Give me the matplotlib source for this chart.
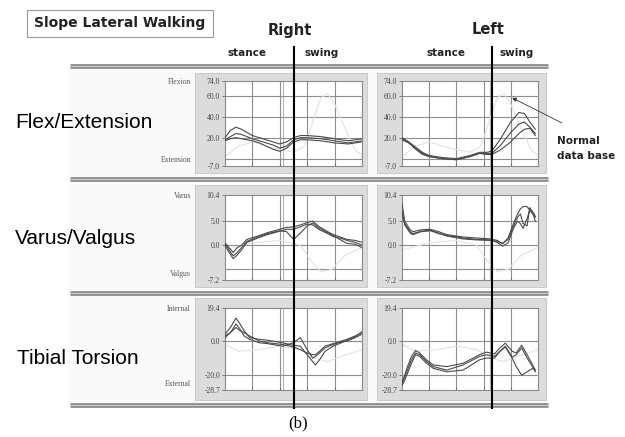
import matplotlib
matplotlib.use("Agg")
import matplotlib.pyplot as plt
from matplotlib.patches import Rectangle
from matplotlib.lines import Line2D

# percent of gait cycle and joint angles (deg), three trials per side
flex_r_x = [0, 4, 8, 12, 16, 20, 25, 30, 35, 40, 45, 50, 55, 60, 70, 80, 90, 100]
flex_r_1 = [20, 27, 30, 28, 25, 22, 20, 18, 16, 14, 16, 20, 22, 22, 21, 19, 17, 19]
flex_r_2 = [18, 21, 24, 23, 21, 19, 17, 15, 13, 10, 12, 18, 20, 20, 19, 17, 15, 17]
flex_r_3 = [17, 19, 20, 19, 18, 17, 15, 12, 9, 7, 10, 16, 18, 18, 17, 15, 14, 16]

flex_l_x = [0, 5, 10, 15, 20, 30, 40, 50, 57, 62, 66, 72, 80, 86, 90, 94, 98]
flex_l_1 = [20, 16, 11, 6, 3, 1, 0, 3, 6, 6, 7, 18, 35, 44, 43, 35, 28]
flex_l_2 = [19, 15, 10, 5, 2, 0, -1, 2, 5, 5, 5, 12, 25, 33, 35, 30, 24]
flex_l_3 = [18, 15, 9, 4, 2, 0, -1, 2, 5, 4, 4, 8, 16, 24, 28, 29, 22]

var_r_x = [0, 3, 6, 9, 12, 16, 25, 31, 40, 45, 50, 55, 60, 64, 69, 75, 79, 85, 89, 95, 100]
var_r_1 = [0.5, -0.5, -1.5, -0.5, 0, 1.2, 2.0, 2.6, 3.3, 3.7, 3.8, 4.2, 4.7, 5.0, 3.8, 2.8, 2.2, 1.6, 1.2, 1.0, 0.6]
var_r_2 = [0, -1.5, -2.8, -2.0, -1.0, 0.6, 1.6, 2.2, 2.9, 3.3, 3.3, 3.8, 4.4, 4.2, 3.2, 2.4, 1.8, 1.4, 1.0, 0.6, 0]
var_r_3 = [0.3, -1.0, -2.2, -1.5, -0.5, 0.8, 1.8, 2.4, 3.0, 2.8, 1.2, 2.5, 4.0, 4.6, 3.5, 2.6, 2.0, 1.0, 0.4, 0.2, -0.5]

var_l_x = [0, 2, 6, 8, 14, 21, 27, 33, 45, 55, 65, 70, 74, 78, 82, 85, 87, 89, 92, 94, 96, 98]
var_l_1 = [8.6, 5.0, 3.2, 2.8, 3.2, 3.3, 2.8, 2.2, 1.7, 1.5, 1.3, 1.0, 0.3, 1.5, 4.5, 6.5, 7.5, 8.0, 8.0, 7.2, 6.5, 5.8]
var_l_2 = [7.0, 4.2, 2.5, 2.2, 2.8, 3.0, 2.4, 2.0, 1.5, 1.2, 1.1, 0.6, -0.2, 0.5, 3.5, 5.0, 4.5, 3.5, 5.5, 7.5, 7.0, 6.0]
var_l_3 = [6.5, 4.5, 2.8, 2.4, 2.9, 3.1, 2.5, 1.9, 1.3, 1.1, 1.0, 0.8, 0.4, 1.2, 4.0, 5.8, 6.5, 4.5, 4.0, 7.8, 6.8, 5.0]

tor_r_x = [0, 4, 8, 11, 14, 18, 25, 31, 42, 50, 55, 60, 64, 66, 69, 73, 79, 85, 89, 95, 100]
tor_r_1 = [4, 8, 13.5, 10, 6, 2, 1, 0.5, -1, -2.5, -3, -8, -12, -14, -11, -6, -3, -1, 0.5, 2.5, 5.5]
tor_r_2 = [3, 5, 8, 6, 5, 3, 0, -1, -2, -3.5, -5, -7, -8, -8, -6, -3, -1.5, 0, 1, 3, 5]
tor_r_3 = [2, 5, 10, 7, 3, 1, -1, -1.5, -3, -1, 2, -5, -10, -9, -7, -4, -2, -0.5, 0, 2, 4]

tor_l_x = [0, 2, 4, 7, 10, 13, 18, 23, 33, 45, 57, 62, 68, 72, 76, 81, 84, 88, 92, 96, 98]
tor_l_1 = [-24, -20, -15, -9, -5.5, -7, -11, -14, -15, -13, -8, -6.5, -7.5, -4, -1.2, -6, -7, -2.4, -8, -14, -17]
tor_l_2 = [-25, -21, -17, -11, -7, -8, -12, -15, -17, -14, -9, -8, -9, -6, -3, -9.4, -8, -4, -10, -15, -18]
tor_l_3 = [-26, -23, -19, -13, -8, -9, -13, -16, -18, -17, -11, -10, -10, -6, -3.5, -10, -15, -20, -18, -16, -17]

# normal data base curves (drawn faint behind the trials)
norm_flex_x = [0, 10, 20, 35, 50, 58, 64, 70, 75, 80, 88, 95, 100]
norm_flex_y = [2, 12, 16, 10, 6, 12, 35, 58, 62, 52, 28, 8, 3]
norm_var_x = [0, 20, 40, 55, 62, 70, 78, 88, 100]
norm_var_y = [-1, 0.5, 1, 0, -3, -5.5, -5, -2, -0.5]
norm_tor_x = [0, 10, 25, 40, 55, 65, 75, 85, 100]
norm_tor_y = [-2, -6, -5, -3, -5, -10, -12, -9, -5]

row_names = ["Flex/Extension", "Varus/Valgus", "Tibial Torsion"]
row_top = ["Flexion", "Varus", "Internal"]
row_bottom = ["Extension", "Valgus", "External"]
row_ylim = [(-7, 74), (-7.2, 10.4), (-28.7, 19.4)]
row_ticks = [[74, 60, 40, 20, -7], [10.4, 5, 0, -7.2], [19.4, 0, -20, -28.7]]
row_ticklabels = [["74.0", "60.0", "40.0", "20.0", "-7.0"],
                  ["10.4", "5.0", "0.0", "-7.2"],
                  ["19.4", "0.0", "-20.0", "-28.7"]]
row_grid = [[60, 40, 20, 0], [5, 0, -5], [0, -20]]
toe_off = [42, 65]  # right, left

panels = [
    [(flex_r_x, [flex_r_1, flex_r_2, flex_r_3]), (flex_l_x, [flex_l_1, flex_l_2, flex_l_3])],
    [(var_r_x, [var_r_1, var_r_2, var_r_3]), (var_l_x, [var_l_1, var_l_2, var_l_3])],
    [(tor_r_x, [tor_r_1, tor_r_2, tor_r_3]), (tor_l_x, [tor_l_1, tor_l_2, tor_l_3])],
]
normals = [(norm_flex_x, norm_flex_y), (norm_var_x, norm_var_y), (norm_tor_x, norm_tor_y)]

W, H = 625, 437

def fx(px):
    return px / W

def fy(py):
    return 1 - py / H

def rect(x0, y0, x1, y1, **kw):
    return Rectangle((fx(x0), fy(y1)), (x1 - x0) / W, (y1 - y0) / H,
                     transform=fig.transFigure, **kw)

fig = plt.figure(figsize=(6.25, 4.37), dpi=100)
fig.patch.set_facecolor("white")

# pixel layout
col_ax = [(225, 362), (402, 538)]
col_frame = [(195, 367), (377, 546)]
row_ax = [(81, 166), (195, 280), (308, 390)]
row_frame = [(73, 173), (185, 287), (298, 400)]
sep_y = [66, 179, 293, 405]

fig.add_artist(rect(68, 66, 548, 405, facecolor="#fafafa", edgecolor="none", zorder=-3))

for r in range(3):
    for c in range(2):
        fx0, fx1 = col_frame[c]
        fy0, fy1 = row_frame[r]
        fig.add_artist(rect(fx0, fy0, fx1, fy1, facecolor="#dcdcdc",
                            edgecolor="#c4c4c4", lw=0.6, zorder=-2))
        ax0, ax1 = col_ax[c]
        ay0, ay1 = row_ax[r]
        ax = fig.add_axes([fx(ax0), fy(ay1), (ax1 - ax0) / W, (ay1 - ay0) / H])
        ax.set_facecolor("white")
        ax.set_xlim(0, 100)
        ax.set_ylim(*row_ylim[r])
        for g in [20, 40, 60, 80]:
            ax.axvline(g, color="#8e8e8e", lw=0.8, zorder=1)
        ax.axvline(toe_off[c], color="#b4b4b4", lw=0.8, zorder=1)
        for g in row_grid[r]:
            ax.axhline(g, color="#8e8e8e", lw=0.8, zorder=1)
        nx, ny = normals[r]
        ax.plot(nx, ny, color="#e2e2e2", lw=0.8, zorder=2)
        xs, trials = panels[r][c]
        for ys in trials:
            ax.plot(xs, ys, color="#4a4a4a", lw=0.8, zorder=3)
        ax.set_yticks(row_ticks[r])
        ax.set_yticklabels(row_ticklabels[r], family="Liberation Serif",
                           fontsize=5.5, color="#444444")
        ax.set_xticks([0, 20, 40, 60, 80, 100])
        ax.set_xticklabels([])
        ax.tick_params(axis="y", length=2.5, width=0.6, pad=1, color="#666666")
        ax.tick_params(axis="x", length=2, width=0.6, direction="in", color="#666666")
        for s in ax.spines.values():
            s.set_color("#8a8a8a")
            s.set_linewidth(0.8)

    # side labels for each row
    ay0, ay1 = row_ax[r]
    fig.text(fx(191), fy(ay0 + 1), row_top[r], family="Liberation Serif",
             fontsize=5.5, color="#555555", ha="right", va="center")
    fig.text(fx(191), fy(ay1 - 6), row_bottom[r], family="Liberation Serif",
             fontsize=5.5, color="#555555", ha="right", va="center")

# row titles
fig.text(fx(15), fy(123), row_names[0], family="Liberation Sans", fontsize=15, va="center")
fig.text(fx(15), fy(239), row_names[1], family="Liberation Sans", fontsize=15, va="center")
fig.text(fx(17), fy(358), row_names[2], family="Liberation Sans", fontsize=15, va="center")

# double gray separator bars
for y in sep_y:
    fig.add_artist(Line2D([fx(70), fx(548)], [fy(y), fy(y)], transform=fig.transFigure,
                          color="#8a8a8a", lw=3.4, solid_capstyle="butt", zorder=4))
    fig.add_artist(Line2D([fx(70), fx(548)], [fy(y), fy(y)], transform=fig.transFigure,
                          color="#cfcfcf", lw=0.8, solid_capstyle="butt", zorder=5))

# stance / swing dividers
for x in [293.5, 492]:
    fig.add_artist(Line2D([fx(x), fx(x)], [fy(47), fy(408)], transform=fig.transFigure,
                          color="black", lw=1.5, zorder=6))

# header
fig.add_artist(rect(27, 10, 213, 37, facecolor="white", edgecolor="#9a9a9a", lw=0.8, zorder=1))
fig.text(fx(120), fy(23.5), "Slope Lateral Walking", family="DejaVu Sans",
         weight="bold", fontsize=10, ha="center", va="center", color="#222222")
fig.text(fx(290), fy(30), "Right", family="DejaVu Sans", weight="bold",
         fontsize=10.5, ha="center", va="center", color="#222222")
fig.text(fx(488), fy(30), "Left", family="DejaVu Sans", weight="bold",
         fontsize=10.5, ha="center", va="center", color="#222222")
for x, s in [(247, "stance"), (322, "swing"), (446, "stance"), (517, "swing")]:
    fig.text(fx(x), fy(53), s, family="DejaVu Sans", weight="bold",
             fontsize=7.5, ha="center", va="center", color="#222222")

# normal data base callout
ax_fl = fig.axes[1]
ax_fl.annotate("", xy=(81, 58), xycoords="data",
               xytext=(fx(562), fy(123)), textcoords="figure fraction",
               arrowprops=dict(arrowstyle="-|>", color="#333333", lw=0.6,
                               mutation_scale=6, shrinkA=0, shrinkB=0),
               annotation_clip=False)
fig.text(fx(557), fy(141), "Normal", family="DejaVu Sans", weight="bold",
         fontsize=7.5, va="center", color="#222222")
fig.text(fx(557), fy(156), "data base", family="DejaVu Sans", weight="bold",
         fontsize=7.5, va="center", color="#222222")

fig.text(fx(298), fy(423), "(b)", family="Liberation Serif", fontsize=12,
         ha="center", va="center")

fig.savefig("out.png", dpi=100)
